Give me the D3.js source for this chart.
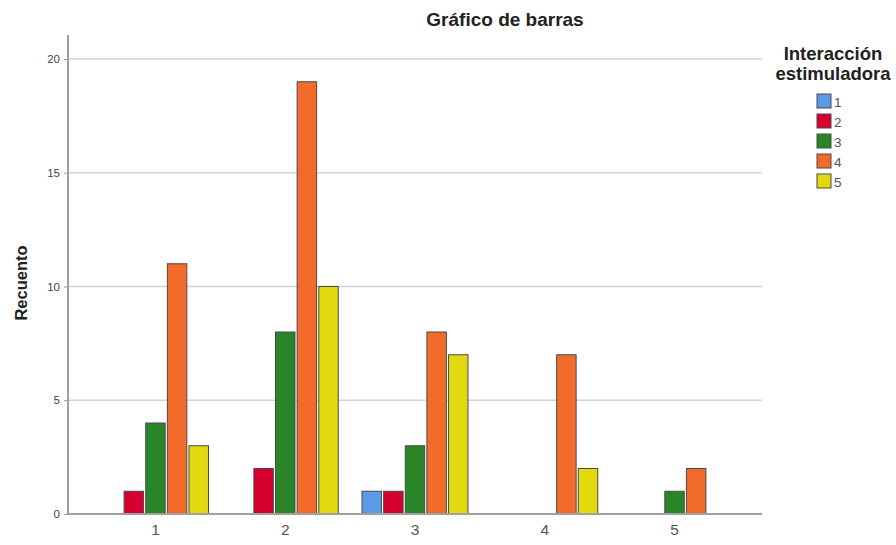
<!DOCTYPE html>
<html>
<head>
<meta charset="utf-8">
<script src="https://cdn.jsdelivr.net/npm/d3@7"></script>
<style>
html,body{margin:0;padding:0;background:#fff;}
svg{display:block;font-family:"Liberation Sans",Arial,sans-serif;}
</style>
</head>
<body>
<svg id="chart" width="896" height="545"></svg>
<script>
const categories = ["1", "2", "3", "4", "5"];
const seriesNames = ["1", "2", "3", "4", "5"];
const seriesColors = ["#5b9be6", "#d6002f", "#2a8428", "#f26b2b", "#e3d90f"];
// counts per category, one array per series
const s1 = [0, 0, 1, 0, 0];
const s2 = [1, 2, 1, 0, 0];
const s3 = [4, 8, 3, 0, 1];
const s4 = [11, 19, 8, 7, 2];
const s5 = [3, 10, 7, 2, 0];
const yTicks = [0, 5, 10, 15, 20];
const titleText = "Gráfico de barras";
const yLabel = "Recuento";
const legendTitle = ["Interacción", "estimuladora"];

const series = [s1, s2, s3, s4, s5];
const svg = d3.select("#chart");

const mLeft = 68, mRight = 762, mTop = 35, mBottom = 514;

const x0 = d3.scaleBand().domain(categories).range([mLeft, mRight]).paddingInner(0).paddingOuter(0.174);
const x1 = d3.scaleBand().domain(seriesNames).range([-53, 53]).paddingInner(0.1).paddingOuter(0);
const y = d3.scaleLinear().domain([0, 20]).range([mBottom, 59]);

// gridlines
svg.append("g").selectAll("line").data(yTicks.filter(d => d > 0)).join("line")
  .attr("x1", mLeft).attr("x2", mRight)
  .attr("y1", d => y(d)).attr("y2", d => y(d))
  .attr("stroke", "#d4d4d4").attr("stroke-width", 1.3);

// y axis
const yAxis = d3.axisLeft(y).tickValues(yTicks).tickSize(4).tickPadding(4);
const gy = svg.append("g").attr("transform", `translate(${mLeft},0)`).call(yAxis);
gy.select(".domain").remove();
gy.selectAll(".tick line").attr("stroke", "#999");
gy.selectAll(".tick text").attr("fill", "#444").attr("font-size", 11.5)
  .attr("font-family", "'Liberation Sans',Arial,sans-serif");
svg.append("line").attr("x1", mLeft).attr("x2", mLeft).attr("y1", mTop).attr("y2", mBottom + 1)
  .attr("stroke", "#a0a0a0").attr("stroke-width", 2);

// bars
const data = [];
categories.forEach((c, i) => {
  seriesNames.forEach((s, j) => {
    const v = series[j][i];
    if (v > 0) data.push({c, s, v, color: seriesColors[j]});
  });
});
svg.append("g").selectAll("rect").data(data).join("rect")
  .attr("x", d => x0(d.c) + x0.bandwidth() / 2 + x1(d.s))
  .attr("y", d => y(d.v))
  .attr("width", x1.bandwidth())
  .attr("height", d => y(0) - y(d.v))
  .attr("fill", d => d.color)
  .attr("stroke", "#4a4a4a").attr("stroke-width", 1);

// x axis
const xAxis = d3.axisBottom(x0).tickSize(0).tickPadding(10);
const gx = svg.append("g").attr("transform", `translate(0,${mBottom})`).call(xAxis);
gx.select(".domain").remove();
gx.selectAll(".tick text").attr("fill", "#555").attr("font-size", 15.5)
  .attr("font-family", "'Liberation Sans',Arial,sans-serif");
svg.append("line").attr("x1", mLeft - 1).attr("x2", mRight).attr("y1", mBottom).attr("y2", mBottom)
  .attr("stroke", "#a0a0a0").attr("stroke-width", 2);

// title
svg.append("text").attr("x", 505).attr("y", 26).attr("text-anchor", "middle")
  .attr("font-size", 19).attr("font-weight", "bold").attr("fill", "#222").text(titleText);

// y label
svg.append("text").attr("transform", "translate(27,283) rotate(-90)").attr("text-anchor", "middle")
  .attr("font-size", 16.5).attr("font-weight", "bold").attr("fill", "#222").text(yLabel);

// legend
const lg = svg.append("g");
lg.selectAll("text.lt").data(legendTitle).join("text").attr("class", "lt")
  .attr("x", 833).attr("y", (d, i) => 60 + i * 19.5).attr("text-anchor", "middle")
  .attr("font-size", 18.5).attr("font-weight", "bold").attr("fill", "#222").text(d => d);
const items = lg.selectAll("g.item").data(seriesNames).join("g").attr("class", "item")
  .attr("transform", (d, i) => `translate(817,${94 + i * 20})`);
items.append("rect").attr("width", 14).attr("height", 14)
  .attr("fill", (d, i) => seriesColors[i]).attr("stroke", "#4a4a4a").attr("stroke-width", 1);
items.append("text").attr("x", 17).attr("y", 12.5).attr("font-size", 13.5).attr("fill", "#555").text(d => d);
</script>
</body>
</html>
